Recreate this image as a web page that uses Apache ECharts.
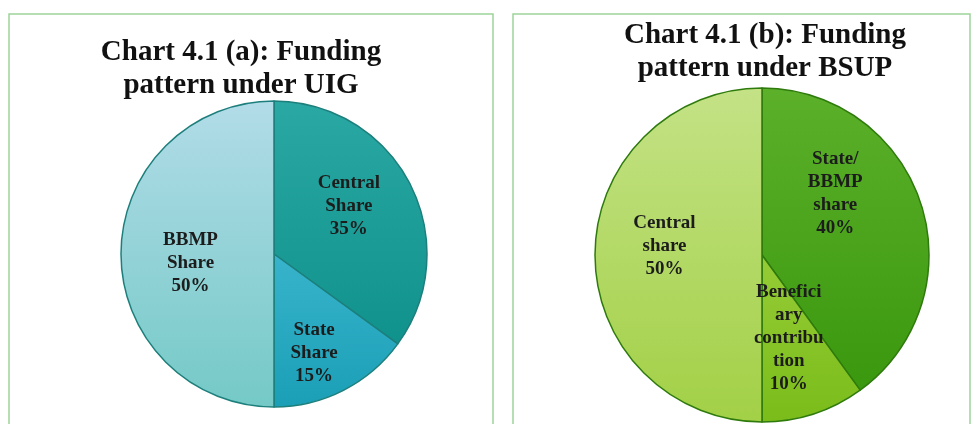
<!DOCTYPE html>
<html>
<head>
<meta charset="utf-8">
<title>Chart 4.1 Funding pattern</title>
<script src="https://cdn.jsdelivr.net/npm/echarts@6/dist/echarts.min.js"></script>
<style>
  html, body { margin: 0; padding: 0; background: #fff; }
  #main { width: 974px; height: 424px; }
</style>
</head>
<body>
<div id="main"></div>
<script>
// chart (a) UIG
var uigNames = ['Central\nShare', 'State\nShare', 'BBMP\nShare'];
var uigValues = [35, 15, 50];
// chart (b) BSUP
var bsupNames = ['State/\nBBMP\nshare', 'Benefici\nary\ncontribu\ntion', 'Central\nshare'];
var bsupValues = [40, 10, 50];

var uigColors = [['#2aa8a4', '#10928c'], ['#38b4cc', '#1a9fb6'], ['#b2dce8', '#74c9c6']];
var bsupColors = [['#5cb02a', '#3a980e'], ['#96cc36', '#7abc1a'], ['#c4e286', '#a2d046']];
// nudge labels to where the original puts them [dx, dy]
var uigShift = [[4, -12], [4, 28], [-4, 9]];
var bsupShift = [[-9, -35], [0, 1], [-11, -9]];

function grad(c) {
    return new echarts.graphic.LinearGradient(0, 0, 0, 1, [
        { offset: 0, color: c[0] }, { offset: 1, color: c[1] }
    ]);
}

function buildData(names, values, colors, shifts) {
    var out = [];
    for (var i = 0; i < names.length; i++) {
        out.push({
            name: names[i],
            value: values[i],
            itemStyle: { color: grad(colors[i]) },
            label: { offset: shifts[i] }
        });
    }
    return out;
}

var labelStyle = {
    show: true,
    position: 'inside',
    formatter: '{b}\n{c}%',
    fontFamily: 'Liberation Serif',
    fontWeight: 'bold',
    fontSize: 19,
    lineHeight: 23,
    color: '#1c1c1c',
    align: 'center'
};

var titleFont = {
    fontFamily: 'Liberation Serif',
    fontWeight: 'bold',
    fontSize: 29,
    lineHeight: 33,
    color: '#111'
};

var myChart = echarts.init(document.getElementById('main'));
var option = {
    backgroundColor: '#fff',
    animation: false,
    graphic: [
        { type: 'rect', shape: { x: 9, y: 14, width: 484, height: 420 },
          style: { fill: 'none', stroke: '#9fd39a', lineWidth: 1.5 } },
        { type: 'rect', shape: { x: 513, y: 14, width: 457, height: 420 },
          style: { fill: 'none', stroke: '#9fd39a', lineWidth: 1.5 } }
    ],
    title: [
        { text: 'Chart 4.1 (a): Funding\npattern under UIG', left: 236, top: 31,
          textAlign: 'center', textStyle: titleFont },
        { text: 'Chart 4.1 (b): Funding\npattern under BSUP', left: 760, top: 14,
          textAlign: 'center', textStyle: titleFont }
    ],
    series: [
        {
            type: 'pie',
            center: [274, 254],
            radius: 153,
            startAngle: 90,
            clockwise: true,
            avoidLabelOverlap: false,
            itemStyle: { borderColor: '#1d7f7c', borderWidth: 1.5 },
            label: labelStyle,
            labelLine: { show: false },
            emphasis: { disabled: true },
            data: buildData(uigNames, uigValues, uigColors, uigShift)
        },
        {
            type: 'pie',
            center: [762, 255],
            radius: 167,
            startAngle: 90,
            clockwise: true,
            avoidLabelOverlap: false,
            itemStyle: { borderColor: '#2e7a0c', borderWidth: 1.5 },
            label: labelStyle,
            labelLine: { show: false },
            emphasis: { disabled: true },
            data: buildData(bsupNames, bsupValues, bsupColors, bsupShift)
        }
    ]
};
myChart.setOption(option);
</script>
</body>
</html>
